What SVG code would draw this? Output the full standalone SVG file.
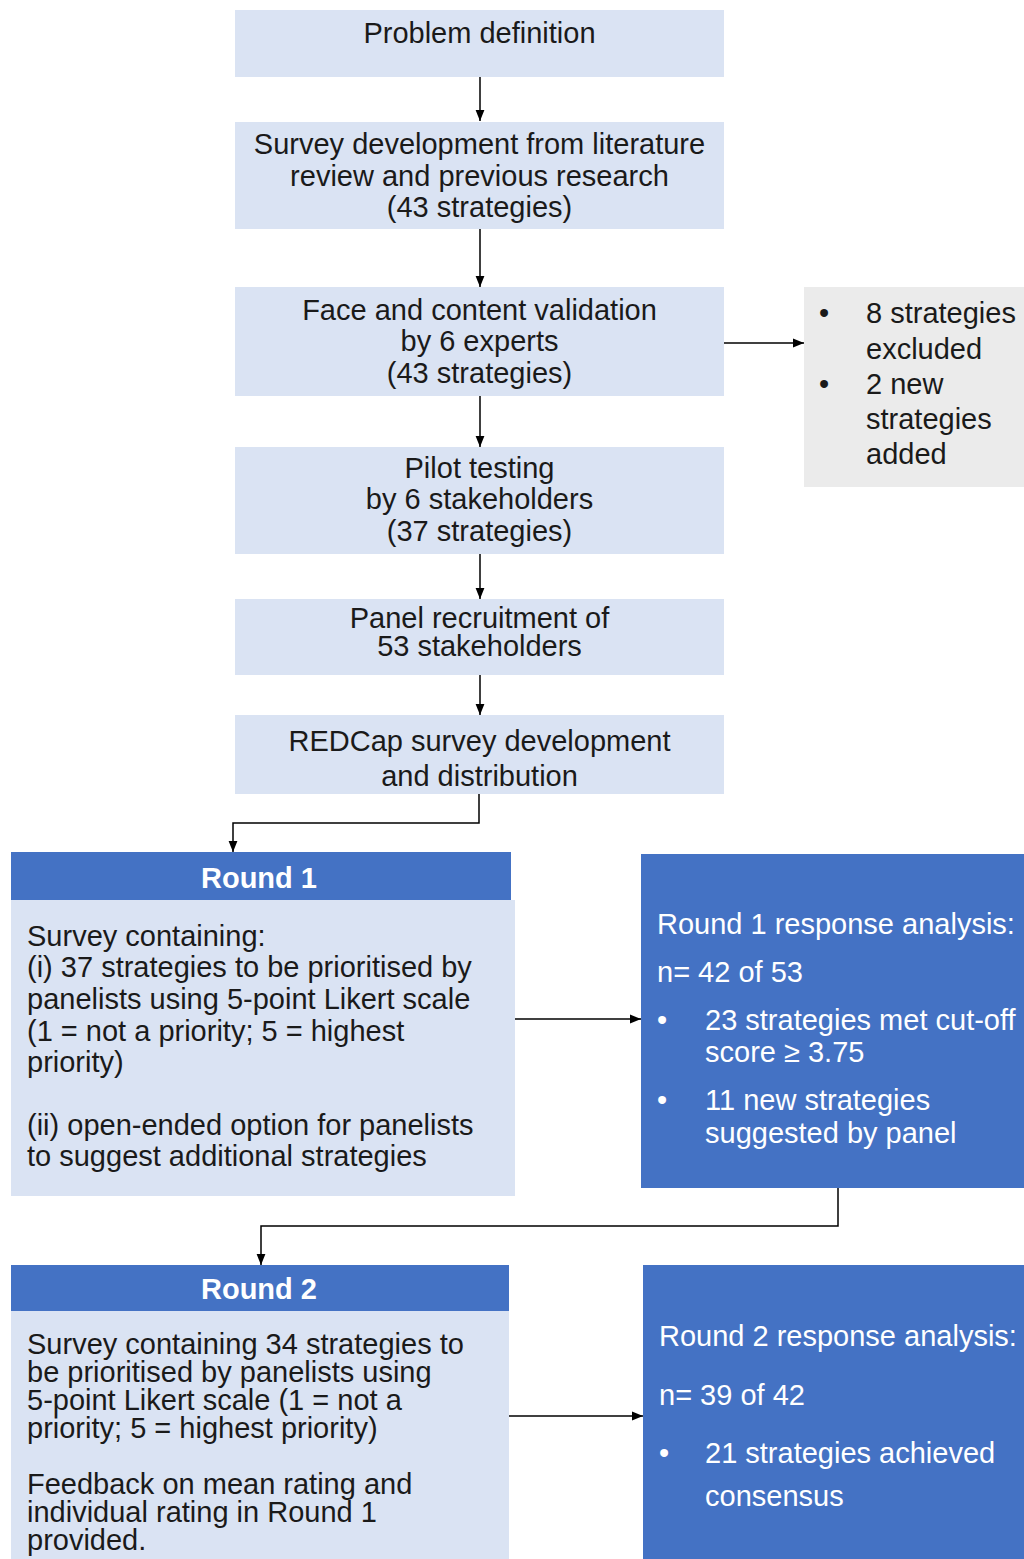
<svg xmlns="http://www.w3.org/2000/svg" width="1024" height="1559" viewBox="0 0 1024 1559">
<defs>
<marker id="arr" viewBox="0 0 10 10" refX="10" refY="5" markerWidth="11" markerHeight="11" markerUnits="userSpaceOnUse" orient="auto">
<path d="M0,1 L10,5 L0,9 Z" fill="#000"/>
</marker>
<style>
.lb{fill:#dae3f3}
.bl{fill:#4472c4}
.gr{fill:#ebebeb}
text{font-family:"Liberation Sans",Arial,sans-serif;font-size:29px;fill:#1a1a1a}
.c{text-anchor:middle}
.w{fill:#fff}
.hd{font-weight:bold;fill:#fff;text-anchor:middle}
.cn{fill:none;stroke:#000;stroke-width:1.5}
</style>
</defs>
<rect width="1024" height="1559" fill="#fff"/>

<g id="n1">
<rect class="lb" x="235" y="10" width="489" height="67"/>
<text class="c" x="479.5" y="43">Problem definition</text>
</g>
<g id="n2">
<rect class="lb" x="235" y="122" width="489" height="107"/>
<text class="c" x="479.5" y="154">Survey development from literature</text>
<text class="c" x="479.5" y="186">review and previous research</text>
<text class="c" x="479.5" y="217">(43 strategies)</text>
</g>
<g id="n3">
<rect class="lb" x="235" y="287" width="489" height="109"/>
<text class="c" x="479.5" y="320">Face and content validation</text>
<text class="c" x="479.5" y="351">by 6 experts</text>
<text class="c" x="479.5" y="383">(43 strategies)</text>
</g>
<g id="side">
<rect class="gr" x="804" y="287" width="220" height="200"/>
<text x="819" y="323">•</text>
<text x="866" y="323">8 strategies</text>
<text x="866" y="359">excluded</text>
<text x="819" y="394">•</text>
<text x="866" y="394">2 new</text>
<text x="866" y="429">strategies</text>
<text x="866" y="464">added</text>
</g>
<g id="n4">
<rect class="lb" x="235" y="447" width="489" height="107"/>
<text class="c" x="479.5" y="478">Pilot testing</text>
<text class="c" x="479.5" y="509">by 6 stakeholders</text>
<text class="c" x="479.5" y="541">(37 strategies)</text>
</g>
<g id="n5">
<rect class="lb" x="235" y="599" width="489" height="76"/>
<text class="c" x="479.5" y="628">Panel recruitment of</text>
<text class="c" x="479.5" y="656">53 stakeholders</text>
</g>
<g id="n6">
<rect class="lb" x="235" y="715" width="489" height="79"/>
<text class="c" x="479.5" y="751">REDCap survey development</text>
<text class="c" x="479.5" y="786">and distribution</text>
</g>

<g id="round1">
<rect class="bl" x="11" y="852" width="500" height="48"/>
<rect class="lb" x="11" y="900" width="504" height="296"/>
<text class="hd" x="259" y="888">Round 1</text>
<text x="27" y="946">Survey containing:</text>
<text x="27" y="977">(i) 37 strategies to be prioritised by</text>
<text x="27" y="1009">panelists using 5-point Likert scale</text>
<text x="27" y="1041">(1 = not a priority; 5 = highest</text>
<text x="27" y="1072">priority)</text>
<text x="27" y="1135">(ii) open-ended option for panelists</text>
<text x="27" y="1166">to suggest additional strategies</text>
</g>
<g id="r1analysis">
<rect class="bl" x="641" y="854" width="383" height="334"/>
<text class="w" x="657" y="934">Round 1 response analysis:</text>
<text class="w" x="657" y="982">n= 42 of 53</text>
<text class="w" x="657" y="1030">•</text>
<text class="w" x="705" y="1030">23 strategies met cut-off</text>
<text class="w" x="705" y="1062">score ≥ 3.75</text>
<text class="w" x="657" y="1110">•</text>
<text class="w" x="705" y="1110">11 new strategies</text>
<text class="w" x="705" y="1143">suggested by panel</text>
</g>

<g id="round2">
<rect class="bl" x="11" y="1265" width="498" height="46"/>
<rect class="lb" x="11" y="1311" width="498" height="248"/>
<text class="hd" x="259" y="1299">Round 2</text>
<text x="27" y="1354">Survey containing 34 strategies to</text>
<text x="27" y="1382">be prioritised by panelists using</text>
<text x="27" y="1410">5-point Likert scale (1 = not a</text>
<text x="27" y="1438">priority; 5 = highest priority)</text>
<text x="27" y="1494">Feedback on mean rating and</text>
<text x="27" y="1522">individual rating in Round 1</text>
<text x="27" y="1550">provided.</text>
</g>
<g id="r2analysis">
<rect class="bl" x="643" y="1265" width="381" height="294"/>
<text class="w" x="659" y="1346">Round 2 response analysis:</text>
<text class="w" x="659" y="1405">n= 39 of 42</text>
<text class="w" x="659" y="1463">•</text>
<text class="w" x="705" y="1463">21 strategies achieved</text>
<text class="w" x="705" y="1506">consensus</text>
</g>

<g id="connectors">
<line class="cn" x1="480" y1="77" x2="480" y2="121" marker-end="url(#arr)"/>
<line class="cn" x1="480" y1="229" x2="480" y2="287" marker-end="url(#arr)"/>
<line class="cn" x1="480" y1="396" x2="480" y2="447" marker-end="url(#arr)"/>
<line class="cn" x1="480" y1="554" x2="480" y2="599" marker-end="url(#arr)"/>
<line class="cn" x1="480" y1="675" x2="480" y2="715" marker-end="url(#arr)"/>
<line class="cn" x1="724" y1="343" x2="804" y2="343" marker-end="url(#arr)"/>
<path class="cn" d="M479,794 V823 H233 V852" marker-end="url(#arr)"/>
<line class="cn" x1="515" y1="1019" x2="641" y2="1019" marker-end="url(#arr)"/>
<path class="cn" d="M838,1188 V1226 H261 V1265" marker-end="url(#arr)"/>
<line class="cn" x1="509" y1="1416" x2="643" y2="1416" marker-end="url(#arr)"/>
</g>
</svg>
